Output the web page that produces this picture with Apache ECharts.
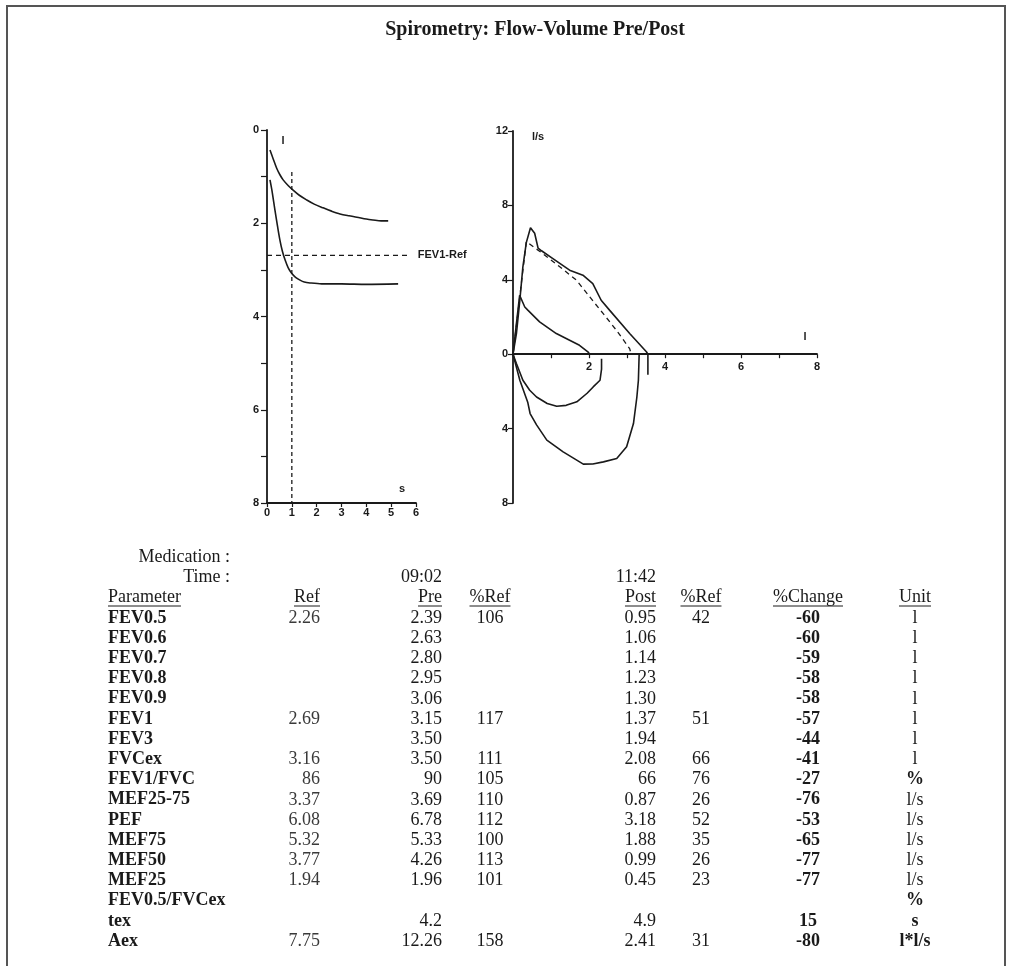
<!DOCTYPE html>
<html>
<head>
<meta charset="utf-8">
<title>Spirometry: Flow-Volume Pre/Post</title>
<script src="https://cdn.jsdelivr.net/npm/echarts@6/dist/echarts.min.js"></script>
<style>
  html, body { margin: 0; padding: 0; background: #fff; }
  #chart { width: 1019px; height: 966px; }
</style>
</head>
<body>
<div id="chart"></div>
<script>
// --- volume-time curves [s, l] ---
const volTimePre = [[0.12, 1.07], [0.2, 1.3], [0.32, 1.72], [0.42, 2.05], [0.52, 2.36], [0.62, 2.6], [0.73, 2.79],
  [0.85, 2.95], [1.0, 3.08], [1.15, 3.16], [1.33, 3.22], [1.5, 3.26], [1.73, 3.28], [2.2, 3.3], [3.0, 3.3], [4.0, 3.31], [5.28, 3.3]];
const volTimePost = [[0.12, 0.43], [0.25, 0.62], [0.39, 0.82], [0.52, 0.96], [0.65, 1.07], [0.85, 1.19], [1.05, 1.29],
  [1.3, 1.4], [1.6, 1.5], [1.9, 1.59], [2.26, 1.67], [2.6, 1.74], [2.94, 1.8], [3.3, 1.84], [3.62, 1.87], [4.0, 1.91], [4.27, 1.93], [4.6, 1.95], [4.88, 1.95]];
const fev1RefLine = [[0, 2.69], [5.75, 2.69]];
const oneSecondLine = [[1, 0.9], [1, 8]];

// --- flow-volume curves [l, l/s] ---
const flowPreExp = [[0, 0], [0.09, 1.1], [0.18, 2.9], [0.26, 4.7], [0.35, 6.0], [0.46, 6.8], [0.57, 6.5], [0.66, 5.7],
  [0.75, 5.56], [1.05, 5.14], [1.49, 4.52], [1.84, 4.25], [2.1, 3.8], [2.32, 2.9], [2.54, 2.37], [3.07, 1.11], [3.51, 0.13], [3.55, 0], [3.55, -1.1]];
const flowPreInsp = [[0, 0], [0.04, -0.32], [0.18, -1.4], [0.39, -2.6], [0.45, -3.19], [0.62, -3.8], [0.89, -4.62], [1.32, -5.25],
  [1.85, -5.91], [2.1, -5.9], [2.38, -5.79], [2.73, -5.61], [2.99, -4.98], [3.17, -3.73], [3.26, -2.3], [3.3, -1.4], [3.32, 0]];
const flowPostExp = [[0, 0], [0.09, 1.65], [0.175, 3.17], [0.31, 2.54], [0.39, 2.37], [0.7, 1.74], [1.14, 1.11],
  [1.49, 0.75], [1.75, 0.48], [1.97, 0.13], [2.02, 0]];
const flowPostInsp = [[0, 0], [0.09, -0.5], [0.26, -1.4], [0.44, -1.94], [0.62, -2.3], [0.9, -2.65], [1.15, -2.8], [1.4, -2.75],
  [1.68, -2.56], [1.95, -2.1], [2.11, -1.76], [2.29, -1.4], [2.33, -0.8], [2.33, -0.25]];
const flowRef = [[0, 0], [0.35, 6.05], [0.79, 5.4], [1.23, 4.7], [1.67, 3.98], [2.02, 3.08], [2.37, 2.19], [2.72, 1.29], [3.07, 0.3], [3.11, 0]];

// --- tick labels ---
const vtYLabels = [0, 2, 4, 6, 8];
const fvXLabels = [2, 4, 6, 8];

// --- table ---
const preTime = '09:02';
const postTime = '11:42';
const params = ['FEV0.5', 'FEV0.6', 'FEV0.7', 'FEV0.8', 'FEV0.9', 'FEV1', 'FEV3', 'FVCex', 'FEV1/FVC', 'MEF25-75',
  'PEF', 'MEF75', 'MEF50', 'MEF25', 'FEV0.5/FVCex', 'tex', 'Aex'];
const refVals = ['2.26', '', '', '', '', '2.69', '', '3.16', '86', '3.37', '6.08', '5.32', '3.77', '1.94', '', '', '7.75'];
const preVals = ['2.39', '2.63', '2.80', '2.95', '3.06', '3.15', '3.50', '3.50', '90', '3.69', '6.78', '5.33', '4.26', '1.96', '', '4.2', '12.26'];
const prePctRef = ['106', '', '', '', '', '117', '', '111', '105', '110', '112', '100', '113', '101', '', '', '158'];
const postVals = ['0.95', '1.06', '1.14', '1.23', '1.30', '1.37', '1.94', '2.08', '66', '0.87', '3.18', '1.88', '0.99', '0.45', '', '4.9', '2.41'];
const postPctRef = ['42', '', '', '', '', '51', '', '66', '76', '26', '52', '35', '26', '23', '', '', '31'];
const pctChange = ['-60', '-60', '-59', '-58', '-58', '-57', '-44', '-41', '-27', '-76', '-53', '-65', '-77', '-77', '', '15', '-80'];
const units = ['l', 'l', 'l', 'l', 'l', 'l', 'l', 'l', '%', 'l/s', 'l/s', 'l/s', 'l/s', 'l/s', '%', 's', 'l*l/s'];

const INK = '#1a1a1a';
const AXIS_FONT = { color: INK, fontFamily: 'Liberation Sans', fontWeight: 'bold', fontSize: 11 };
const SERIF = '"Liberation Serif", "DejaVu Serif", serif';

const chart = echarts.init(document.getElementById('chart'));

// table text as graphic elements
const measure = document.createElement('canvas').getContext('2d');
const graphics = [];
function txt(text, x, y, align, bold, color) {
  if (!text) return;
  graphics.push({
    type: 'text', x: x, y: y, silent: true,
    style: { text: text, align: align, verticalAlign: 'middle', fill: color || INK,
      font: (bold ? 'bold ' : '') + '18px ' + SERIF }
  });
}
function header(text, x, y, align) {
  txt(text, x, y, align, false);
  measure.font = '18px ' + SERIF;
  const w = measure.measureText(text).width;
  const x0 = align === 'left' ? x : align === 'right' ? x - w : x - w / 2;
  graphics.push({ type: 'line', silent: true, shape: { x1: x0, y1: y + 9, x2: x0 + w, y2: y + 9 },
    style: { stroke: INK, lineWidth: 1 } });
}

const col = { param: 108, label: 230, ref: 320, pre: 442, preRef: 490, post: 656, postRef: 701, change: 808, unit: 915 };
const rowMid = i => 618 + 20.2 * i;

txt('Medication :', col.label, 557, 'right');
txt('Time :', col.label, 577, 'right');
txt(preTime, col.pre, 577, 'right');
txt(postTime, col.post, 577, 'right');
header('Parameter', col.param, 597, 'left');
header('Ref', col.ref, 597, 'right');
header('Pre', col.pre, 597, 'right');
header('%Ref', col.preRef, 597, 'center');
header('Post', col.post, 597, 'right');
header('%Ref', col.postRef, 597, 'center');
header('%Change', col.change, 597, 'center');
header('Unit', col.unit, 597, 'center');

params.forEach((p, i) => {
  const y = rowMid(i);
  txt(p, col.param, y, 'left', true);
  txt(refVals[i], col.ref, y, 'right', false, '#3a3a3a');
  txt(preVals[i], col.pre, y, 'right');
  txt(prePctRef[i], col.preRef, y, 'center');
  txt(postVals[i], col.post, y, 'right');
  txt(postPctRef[i], col.postRef, y, 'center');
  txt(pctChange[i], col.change, y, 'center', true);
  txt(units[i], col.unit, y, 'center', units[i] !== 'l' && units[i] !== 'l/s');
});

// title, frame and axis unit labels
graphics.push(
  { type: 'rect', silent: true, shape: { x: 7, y: 6, width: 998, height: 1000 },
    style: { fill: 'none', stroke: '#555', lineWidth: 2 } },
  { type: 'text', x: 535, y: 30, silent: true,
    style: { text: 'Spirometry: Flow-Volume Pre/Post', align: 'center', verticalAlign: 'middle', fill: INK,
      font: 'bold 20px ' + SERIF } },
  { type: 'text', x: 283, y: 141, silent: true,
    style: { text: 'l', align: 'center', verticalAlign: 'middle', fill: INK, font: 'bold 11px "Liberation Sans"' } },
  { type: 'text', x: 402, y: 489, silent: true,
    style: { text: 's', align: 'center', verticalAlign: 'middle', fill: INK, font: 'bold 11px "Liberation Sans"' } },
  { type: 'text', x: 538, y: 137, silent: true,
    style: { text: 'l/s', align: 'center', verticalAlign: 'middle', fill: INK, font: 'bold 11px "Liberation Sans"' } },
  { type: 'text', x: 805, y: 337, silent: true,
    style: { text: 'l', align: 'center', verticalAlign: 'middle', fill: INK, font: 'bold 11px "Liberation Sans"' } }
);

const solid = { color: INK, width: 1.6 };
const dashed = { color: INK, width: 1.3, type: [5, 4] };
function curve(data, xi, style, smooth, extra) {
  return Object.assign({
    type: 'line', xAxisIndex: xi, yAxisIndex: xi, data: data, showSymbol: false, silent: true,
    smooth: smooth, lineStyle: style, animation: false
  }, extra || {});
}

const axisLine = { show: true, onZero: false, lineStyle: { color: INK, width: 1.8 } };

// the flow axis sits at flow = 0: 8 of 20 units above the bottom of a 372px grid
const FV_ZERO_OFFSET = -372 * 8 / 20;

chart.setOption({
  animation: false,
  grid: [
    { left: 267, top: 130, width: 149, height: 373 },
    { left: 513, top: 131, width: 304, height: 372 }
  ],
  xAxis: [
    { gridIndex: 0, type: 'value', min: 0, max: 6, interval: 1, splitLine: { show: false },
      axisLine: axisLine, axisTick: { show: true, length: 4, lineStyle: { color: INK, width: 1.2 } },
      axisLabel: Object.assign({ margin: 4 }, AXIS_FONT) },
    { gridIndex: 1, type: 'value', min: 0, max: 8, interval: 1, splitLine: { show: false },
      offset: FV_ZERO_OFFSET,
      axisLine: axisLine,
      axisTick: { show: true, length: 4, lineStyle: { color: INK, width: 1.2 } },
      axisLabel: Object.assign({ margin: 7, formatter: v => fvXLabels.includes(v) ? String(v) : '' }, AXIS_FONT) }
  ],
  yAxis: [
    { gridIndex: 0, type: 'value', inverse: true, min: 0, max: 8, interval: 1, splitLine: { show: false },
      axisLine: axisLine, axisTick: { show: true, length: 6, lineStyle: { color: INK, width: 1.2 } },
      axisLabel: Object.assign({ margin: 8, formatter: v => vtYLabels.includes(v) ? String(v) : '' }, AXIS_FONT) },
    { gridIndex: 1, type: 'value', min: -8, max: 12, interval: 4, splitLine: { show: false },
      axisLine: axisLine, axisTick: { show: true, length: 5, lineStyle: { color: INK, width: 1.2 } },
      axisLabel: Object.assign({ margin: 5, formatter: v => String(Math.abs(v)) }, AXIS_FONT) }
  ],
  series: [
    curve(volTimePre, 0, solid, 0.3),
    curve(volTimePost, 0, solid, 0.3),
    curve(fev1RefLine, 0, dashed, false, {
      endLabel: { show: true, formatter: 'FEV1-Ref', distance: 8, color: INK,
        fontFamily: 'Liberation Sans', fontWeight: 'bold', fontSize: 11 }
    }),
    curve(oneSecondLine, 0, { color: INK, width: 1.3, type: [4, 3] }, false),
    curve(flowRef, 1, dashed, false),
    curve(flowPreExp, 1, solid, false),
    curve(flowPreInsp, 1, solid, false),
    curve(flowPostExp, 1, solid, false),
    curve(flowPostInsp, 1, solid, false)
  ],
  graphic: graphics
});

window.addEventListener('resize', () => chart.resize());
</script>
</body>
</html>
